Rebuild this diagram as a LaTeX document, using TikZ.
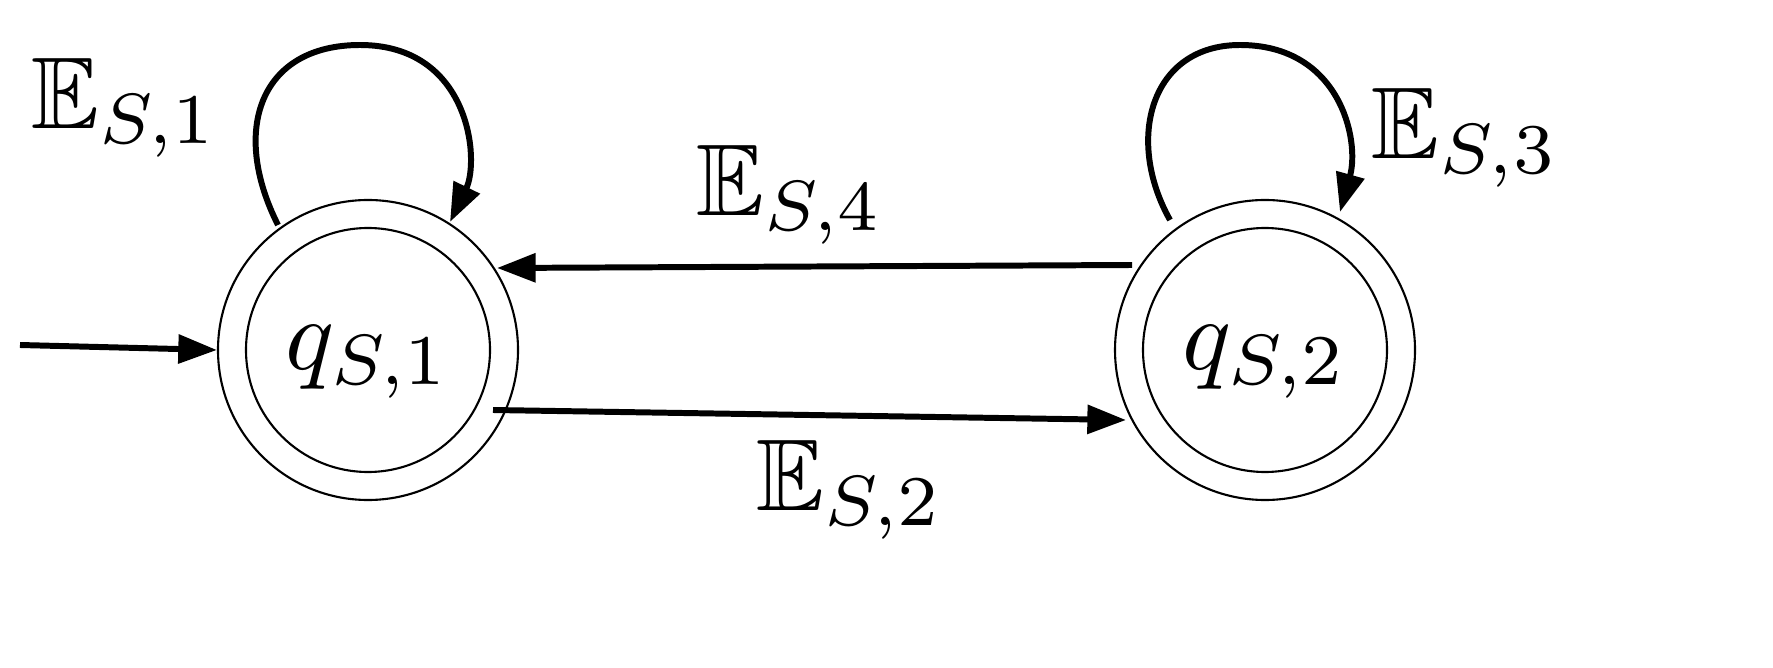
\documentclass[tikz,border=0pt]{standalone}
\usepackage{amssymb}
\usetikzlibrary{arrows.meta}
\begin{document}
\begin{tikzpicture}[x=0.02cm,y=-0.02cm,
  conn/.style={line width=3.4pt,-{Triangle[length=22pt,width=16pt]}},
  lbl/.style={scale=5.8},
  ring/.style={circle,draw,line width=1.2pt,minimum size=#1}]
\node[ring=300*0.02cm] (o1) at (368,350) {};
\node[ring=244*0.02cm] (i1) at (368,350) {};
\node[ring=300*0.02cm] (o2) at (1265,350) {};
\node[ring=244*0.02cm] (i2) at (1265,350) {};
\node[lbl] (t1) at (368,362) {$q_{S,1}$};
\node[lbl] (t2) at (1265,362) {$q_{S,2}$};
\coordinate (s) at (20,345);
\draw[conn] (s) -- (o1.west);
\coordinate (b1) at (493,410); \coordinate (b2) at (1126,420);
\draw[conn] (b1) -- (b2);
\coordinate (u1) at (1132,265); \coordinate (u2) at (497,268);
\draw[conn] (u1) -- (u2);
\coordinate (l1) at (278,225); \coordinate (l2) at (450,222);
\draw[conn] (l1) .. controls (230,130) and (260,45) .. (360,45) .. controls (470,45) and (480,160) .. (l2);
\coordinate (r1) at (1170,220); \coordinate (r2) at (1340,212);
\draw[conn] (r1) .. controls (1125,140) and (1150,45) .. (1240,45) .. controls (1340,45) and (1360,140) .. (r2);
\node[lbl] (e1) at (125,108) {$\mathbb{E}_{S,1}$};
\node[lbl] (e4) at (790,195) {$\mathbb{E}_{S,4}$};
\node[lbl] (e2) at (850,490) {$\mathbb{E}_{S,2}$};
\node[lbl] (e3) at (1465,138) {$\mathbb{E}_{S,3}$};
\pgfresetboundingbox
\useasboundingbox (0,0) rectangle (1773,668);
\end{tikzpicture}
\end{document}
